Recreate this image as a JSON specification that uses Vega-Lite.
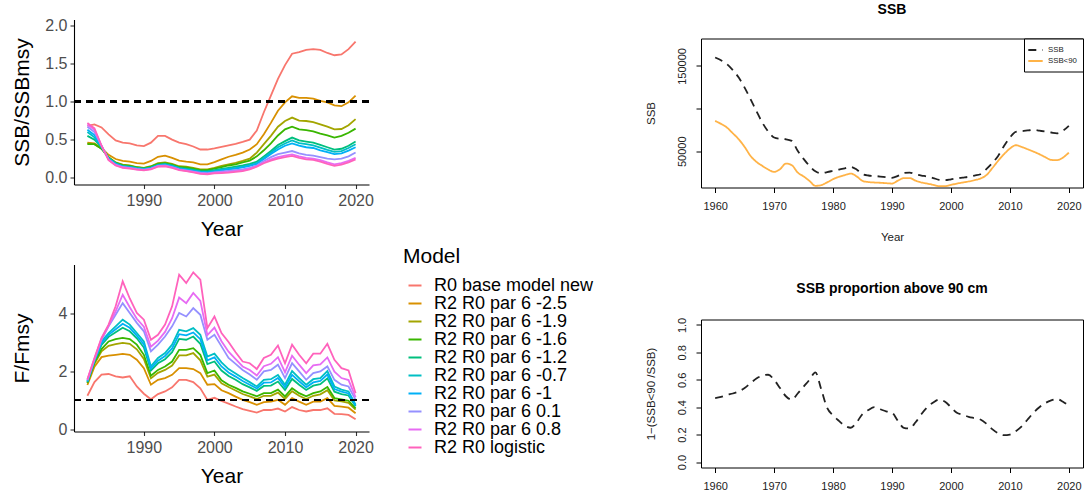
{
"$schema": "https://vega.github.io/schema/vega-lite/v6.json",
"background": "white",
"padding": {"left": 10, "top": 2.5, "right": 0, "bottom": 0},
"config": {"font": "Liberation Sans", "view": {"stroke": null}, "axis": {"grid": false}},
"datasets": {
"left": [
{"Year":1982,"Model":"R0 base model new","S":0.68,"F":1.15},{"Year":1983,"Model":"R0 base model new","S":0.70,"F":1.62},{"Year":1984,"Model":"R0 base model new","S":0.66,"F":1.88},{"Year":1985,"Model":"R0 base model new","S":0.57,"F":1.90},{"Year":1986,"Model":"R0 base model new","S":0.49,"F":1.82},{"Year":1987,"Model":"R0 base model new","S":0.46,"F":1.78},{"Year":1988,"Model":"R0 base model new","S":0.45,"F":1.82},{"Year":1989,"Model":"R0 base model new","S":0.425,"F":1.47},{"Year":1990,"Model":"R0 base model new","S":0.415,"F":1.22},{"Year":1991,"Model":"R0 base model new","S":0.46,"F":1.03},{"Year":1992,"Model":"R0 base model new","S":0.55,"F":1.21},{"Year":1993,"Model":"R0 base model new","S":0.55,"F":1.30},{"Year":1994,"Model":"R0 base model new","S":0.50,"F":1.44},{"Year":1995,"Model":"R0 base model new","S":0.46,"F":1.70},{"Year":1996,"Model":"R0 base model new","S":0.44,"F":1.70},{"Year":1997,"Model":"R0 base model new","S":0.41,"F":1.62},{"Year":1998,"Model":"R0 base model new","S":0.37,"F":1.41},{"Year":1999,"Model":"R0 base model new","S":0.37,"F":1.01},{"Year":2000,"Model":"R0 base model new","S":0.385,"F":1.08},{"Year":2001,"Model":"R0 base model new","S":0.405,"F":0.97},{"Year":2002,"Model":"R0 base model new","S":0.425,"F":0.88},{"Year":2003,"Model":"R0 base model new","S":0.445,"F":0.78},{"Year":2004,"Model":"R0 base model new","S":0.47,"F":0.69},{"Year":2005,"Model":"R0 base model new","S":0.50,"F":0.63},{"Year":2006,"Model":"R0 base model new","S":0.62,"F":0.57},{"Year":2007,"Model":"R0 base model new","S":0.86,"F":0.66},{"Year":2008,"Model":"R0 base model new","S":1.08,"F":0.66},{"Year":2009,"Model":"R0 base model new","S":1.30,"F":0.71},{"Year":2010,"Model":"R0 base model new","S":1.48,"F":0.61},{"Year":2011,"Model":"R0 base model new","S":1.63,"F":0.76},{"Year":2012,"Model":"R0 base model new","S":1.65,"F":0.66},{"Year":2013,"Model":"R0 base model new","S":1.68,"F":0.61},{"Year":2014,"Model":"R0 base model new","S":1.69,"F":0.66},{"Year":2015,"Model":"R0 base model new","S":1.68,"F":0.66},{"Year":2016,"Model":"R0 base model new","S":1.64,"F":0.72},{"Year":2017,"Model":"R0 base model new","S":1.61,"F":0.53},{"Year":2018,"Model":"R0 base model new","S":1.62,"F":0.52},{"Year":2019,"Model":"R0 base model new","S":1.69,"F":0.49},{"Year":2020,"Model":"R0 base model new","S":1.79,"F":0.34},
{"Year":1982,"Model":"R2 R0 par 6 -2.5","S":0.46,"F":1.52},{"Year":1983,"Model":"R2 R0 par 6 -2.5","S":0.45,"F":2.15},{"Year":1984,"Model":"R2 R0 par 6 -2.5","S":0.39,"F":2.48},{"Year":1985,"Model":"R2 R0 par 6 -2.5","S":0.30,"F":2.53},{"Year":1986,"Model":"R2 R0 par 6 -2.5","S":0.245,"F":2.56},{"Year":1987,"Model":"R2 R0 par 6 -2.5","S":0.22,"F":2.59},{"Year":1988,"Model":"R2 R0 par 6 -2.5","S":0.21,"F":2.56},{"Year":1989,"Model":"R2 R0 par 6 -2.5","S":0.19,"F":2.39},{"Year":1990,"Model":"R2 R0 par 6 -2.5","S":0.185,"F":2.10},{"Year":1991,"Model":"R2 R0 par 6 -2.5","S":0.22,"F":1.53},{"Year":1992,"Model":"R2 R0 par 6 -2.5","S":0.275,"F":1.70},{"Year":1993,"Model":"R2 R0 par 6 -2.5","S":0.29,"F":1.76},{"Year":1994,"Model":"R2 R0 par 6 -2.5","S":0.26,"F":1.87},{"Year":1995,"Model":"R2 R0 par 6 -2.5","S":0.225,"F":2.10},{"Year":1996,"Model":"R2 R0 par 6 -2.5","S":0.21,"F":2.10},{"Year":1997,"Model":"R2 R0 par 6 -2.5","S":0.20,"F":2.07},{"Year":1998,"Model":"R2 R0 par 6 -2.5","S":0.175,"F":1.93},{"Year":1999,"Model":"R2 R0 par 6 -2.5","S":0.175,"F":1.53},{"Year":2000,"Model":"R2 R0 par 6 -2.5","S":0.205,"F":1.55},{"Year":2001,"Model":"R2 R0 par 6 -2.5","S":0.24,"F":1.34},{"Year":2002,"Model":"R2 R0 par 6 -2.5","S":0.275,"F":1.24},{"Year":2003,"Model":"R2 R0 par 6 -2.5","S":0.30,"F":1.12},{"Year":2004,"Model":"R2 R0 par 6 -2.5","S":0.33,"F":1.01},{"Year":2005,"Model":"R2 R0 par 6 -2.5","S":0.37,"F":0.93},{"Year":2006,"Model":"R2 R0 par 6 -2.5","S":0.44,"F":0.84},{"Year":2007,"Model":"R2 R0 par 6 -2.5","S":0.57,"F":0.93},{"Year":2008,"Model":"R2 R0 par 6 -2.5","S":0.72,"F":0.95},{"Year":2009,"Model":"R2 R0 par 6 -2.5","S":0.88,"F":1.01},{"Year":2010,"Model":"R2 R0 par 6 -2.5","S":0.99,"F":0.84},{"Year":2011,"Model":"R2 R0 par 6 -2.5","S":1.07,"F":1.07},{"Year":2012,"Model":"R2 R0 par 6 -2.5","S":1.05,"F":0.95},{"Year":2013,"Model":"R2 R0 par 6 -2.5","S":1.05,"F":0.84},{"Year":2014,"Model":"R2 R0 par 6 -2.5","S":1.04,"F":0.95},{"Year":2015,"Model":"R2 R0 par 6 -2.5","S":1.01,"F":0.95},{"Year":2016,"Model":"R2 R0 par 6 -2.5","S":0.99,"F":1.07},{"Year":2017,"Model":"R2 R0 par 6 -2.5","S":0.95,"F":0.80},{"Year":2018,"Model":"R2 R0 par 6 -2.5","S":0.94,"F":0.78},{"Year":2019,"Model":"R2 R0 par 6 -2.5","S":0.99,"F":0.74},{"Year":2020,"Model":"R2 R0 par 6 -2.5","S":1.08,"F":0.55},
{"Year":1982,"Model":"R2 R0 par 6 -1.9","S":0.45,"F":1.58},{"Year":1983,"Model":"R2 R0 par 6 -1.9","S":0.44,"F":2.25},{"Year":1984,"Model":"R2 R0 par 6 -1.9","S":0.38,"F":2.68},{"Year":1985,"Model":"R2 R0 par 6 -1.9","S":0.27,"F":2.87},{"Year":1986,"Model":"R2 R0 par 6 -1.9","S":0.20,"F":2.93},{"Year":1987,"Model":"R2 R0 par 6 -1.9","S":0.17,"F":2.97},{"Year":1988,"Model":"R2 R0 par 6 -1.9","S":0.16,"F":2.94},{"Year":1989,"Model":"R2 R0 par 6 -1.9","S":0.14,"F":2.75},{"Year":1990,"Model":"R2 R0 par 6 -1.9","S":0.13,"F":2.42},{"Year":1991,"Model":"R2 R0 par 6 -1.9","S":0.15,"F":1.75},{"Year":1992,"Model":"R2 R0 par 6 -1.9","S":0.19,"F":1.94},{"Year":1993,"Model":"R2 R0 par 6 -1.9","S":0.20,"F":2.04},{"Year":1994,"Model":"R2 R0 par 6 -1.9","S":0.18,"F":2.19},{"Year":1995,"Model":"R2 R0 par 6 -1.9","S":0.15,"F":2.54},{"Year":1996,"Model":"R2 R0 par 6 -1.9","S":0.145,"F":2.54},{"Year":1997,"Model":"R2 R0 par 6 -1.9","S":0.13,"F":2.62},{"Year":1998,"Model":"R2 R0 par 6 -1.9","S":0.11,"F":2.37},{"Year":1999,"Model":"R2 R0 par 6 -1.9","S":0.11,"F":1.81},{"Year":2000,"Model":"R2 R0 par 6 -1.9","S":0.13,"F":1.88},{"Year":2001,"Model":"R2 R0 par 6 -1.9","S":0.155,"F":1.58},{"Year":2002,"Model":"R2 R0 par 6 -1.9","S":0.175,"F":1.45},{"Year":2003,"Model":"R2 R0 par 6 -1.9","S":0.195,"F":1.33},{"Year":2004,"Model":"R2 R0 par 6 -1.9","S":0.22,"F":1.21},{"Year":2005,"Model":"R2 R0 par 6 -1.9","S":0.25,"F":1.13},{"Year":2006,"Model":"R2 R0 par 6 -1.9","S":0.33,"F":1.04},{"Year":2007,"Model":"R2 R0 par 6 -1.9","S":0.44,"F":1.15},{"Year":2008,"Model":"R2 R0 par 6 -1.9","S":0.55,"F":1.15},{"Year":2009,"Model":"R2 R0 par 6 -1.9","S":0.67,"F":1.26},{"Year":2010,"Model":"R2 R0 par 6 -1.9","S":0.745,"F":1.04},{"Year":2011,"Model":"R2 R0 par 6 -1.9","S":0.79,"F":1.31},{"Year":2012,"Model":"R2 R0 par 6 -1.9","S":0.75,"F":1.15},{"Year":2013,"Model":"R2 R0 par 6 -1.9","S":0.745,"F":1.04},{"Year":2014,"Model":"R2 R0 par 6 -1.9","S":0.73,"F":1.15},{"Year":2015,"Model":"R2 R0 par 6 -1.9","S":0.70,"F":1.20},{"Year":2016,"Model":"R2 R0 par 6 -1.9","S":0.67,"F":1.34},{"Year":2017,"Model":"R2 R0 par 6 -1.9","S":0.635,"F":0.99},{"Year":2018,"Model":"R2 R0 par 6 -1.9","S":0.64,"F":0.96},{"Year":2019,"Model":"R2 R0 par 6 -1.9","S":0.69,"F":0.91},{"Year":2020,"Model":"R2 R0 par 6 -1.9","S":0.77,"F":0.67},
{"Year":1982,"Model":"R2 R0 par 6 -1.6","S":0.44,"F":1.60},{"Year":1983,"Model":"R2 R0 par 6 -1.6","S":0.44,"F":2.30},{"Year":1984,"Model":"R2 R0 par 6 -1.6","S":0.38,"F":2.76},{"Year":1985,"Model":"R2 R0 par 6 -1.6","S":0.265,"F":3.02},{"Year":1986,"Model":"R2 R0 par 6 -1.6","S":0.195,"F":3.10},{"Year":1987,"Model":"R2 R0 par 6 -1.6","S":0.165,"F":3.14},{"Year":1988,"Model":"R2 R0 par 6 -1.6","S":0.155,"F":3.10},{"Year":1989,"Model":"R2 R0 par 6 -1.6","S":0.135,"F":2.91},{"Year":1990,"Model":"R2 R0 par 6 -1.6","S":0.125,"F":2.56},{"Year":1991,"Model":"R2 R0 par 6 -1.6","S":0.145,"F":1.84},{"Year":1992,"Model":"R2 R0 par 6 -1.6","S":0.18,"F":2.04},{"Year":1993,"Model":"R2 R0 par 6 -1.6","S":0.19,"F":2.16},{"Year":1994,"Model":"R2 R0 par 6 -1.6","S":0.17,"F":2.33},{"Year":1995,"Model":"R2 R0 par 6 -1.6","S":0.14,"F":2.73},{"Year":1996,"Model":"R2 R0 par 6 -1.6","S":0.135,"F":2.73},{"Year":1997,"Model":"R2 R0 par 6 -1.6","S":0.12,"F":2.79},{"Year":1998,"Model":"R2 R0 par 6 -1.6","S":0.10,"F":2.56},{"Year":1999,"Model":"R2 R0 par 6 -1.6","S":0.10,"F":1.93},{"Year":2000,"Model":"R2 R0 par 6 -1.6","S":0.12,"F":2.02},{"Year":2001,"Model":"R2 R0 par 6 -1.6","S":0.14,"F":1.68},{"Year":2002,"Model":"R2 R0 par 6 -1.6","S":0.16,"F":1.53},{"Year":2003,"Model":"R2 R0 par 6 -1.6","S":0.175,"F":1.42},{"Year":2004,"Model":"R2 R0 par 6 -1.6","S":0.20,"F":1.30},{"Year":2005,"Model":"R2 R0 par 6 -1.6","S":0.225,"F":1.22},{"Year":2006,"Model":"R2 R0 par 6 -1.6","S":0.28,"F":1.13},{"Year":2007,"Model":"R2 R0 par 6 -1.6","S":0.36,"F":1.24},{"Year":2008,"Model":"R2 R0 par 6 -1.6","S":0.45,"F":1.24},{"Year":2009,"Model":"R2 R0 par 6 -1.6","S":0.555,"F":1.36},{"Year":2010,"Model":"R2 R0 par 6 -1.6","S":0.635,"F":1.13},{"Year":2011,"Model":"R2 R0 par 6 -1.6","S":0.67,"F":1.41},{"Year":2012,"Model":"R2 R0 par 6 -1.6","S":0.635,"F":1.24},{"Year":2013,"Model":"R2 R0 par 6 -1.6","S":0.625,"F":1.13},{"Year":2014,"Model":"R2 R0 par 6 -1.6","S":0.61,"F":1.24},{"Year":2015,"Model":"R2 R0 par 6 -1.6","S":0.58,"F":1.30},{"Year":2016,"Model":"R2 R0 par 6 -1.6","S":0.555,"F":1.45},{"Year":2017,"Model":"R2 R0 par 6 -1.6","S":0.527,"F":1.07},{"Year":2018,"Model":"R2 R0 par 6 -1.6","S":0.55,"F":1.03},{"Year":2019,"Model":"R2 R0 par 6 -1.6","S":0.59,"F":0.98},{"Year":2020,"Model":"R2 R0 par 6 -1.6","S":0.645,"F":0.72},
{"Year":1982,"Model":"R2 R0 par 6 -1.2","S":0.55,"F":1.62},{"Year":1983,"Model":"R2 R0 par 6 -1.2","S":0.50,"F":2.34},{"Year":1984,"Model":"R2 R0 par 6 -1.2","S":0.40,"F":2.90},{"Year":1985,"Model":"R2 R0 par 6 -1.2","S":0.26,"F":3.18},{"Year":1986,"Model":"R2 R0 par 6 -1.2","S":0.19,"F":3.34},{"Year":1987,"Model":"R2 R0 par 6 -1.2","S":0.155,"F":3.49},{"Year":1988,"Model":"R2 R0 par 6 -1.2","S":0.145,"F":3.37},{"Year":1989,"Model":"R2 R0 par 6 -1.2","S":0.13,"F":3.13},{"Year":1990,"Model":"R2 R0 par 6 -1.2","S":0.12,"F":2.81},{"Year":1991,"Model":"R2 R0 par 6 -1.2","S":0.135,"F":2.02},{"Year":1992,"Model":"R2 R0 par 6 -1.2","S":0.17,"F":2.27},{"Year":1993,"Model":"R2 R0 par 6 -1.2","S":0.18,"F":2.41},{"Year":1994,"Model":"R2 R0 par 6 -1.2","S":0.16,"F":2.65},{"Year":1995,"Model":"R2 R0 par 6 -1.2","S":0.13,"F":3.11},{"Year":1996,"Model":"R2 R0 par 6 -1.2","S":0.12,"F":3.08},{"Year":1997,"Model":"R2 R0 par 6 -1.2","S":0.105,"F":3.19},{"Year":1998,"Model":"R2 R0 par 6 -1.2","S":0.09,"F":2.94},{"Year":1999,"Model":"R2 R0 par 6 -1.2","S":0.085,"F":2.24},{"Year":2000,"Model":"R2 R0 par 6 -1.2","S":0.10,"F":2.33},{"Year":2001,"Model":"R2 R0 par 6 -1.2","S":0.115,"F":2.02},{"Year":2002,"Model":"R2 R0 par 6 -1.2","S":0.13,"F":1.83},{"Year":2003,"Model":"R2 R0 par 6 -1.2","S":0.145,"F":1.70},{"Year":2004,"Model":"R2 R0 par 6 -1.2","S":0.16,"F":1.55},{"Year":2005,"Model":"R2 R0 par 6 -1.2","S":0.18,"F":1.44},{"Year":2006,"Model":"R2 R0 par 6 -1.2","S":0.21,"F":1.32},{"Year":2007,"Model":"R2 R0 par 6 -1.2","S":0.28,"F":1.49},{"Year":2008,"Model":"R2 R0 par 6 -1.2","S":0.35,"F":1.50},{"Year":2009,"Model":"R2 R0 par 6 -1.2","S":0.43,"F":1.64},{"Year":2010,"Model":"R2 R0 par 6 -1.2","S":0.48,"F":1.35},{"Year":2011,"Model":"R2 R0 par 6 -1.2","S":0.527,"F":1.73},{"Year":2012,"Model":"R2 R0 par 6 -1.2","S":0.49,"F":1.53},{"Year":2013,"Model":"R2 R0 par 6 -1.2","S":0.475,"F":1.35},{"Year":2014,"Model":"R2 R0 par 6 -1.2","S":0.46,"F":1.50},{"Year":2015,"Model":"R2 R0 par 6 -1.2","S":0.43,"F":1.55},{"Year":2016,"Model":"R2 R0 par 6 -1.2","S":0.40,"F":1.75},{"Year":2017,"Model":"R2 R0 par 6 -1.2","S":0.37,"F":1.29},{"Year":2018,"Model":"R2 R0 par 6 -1.2","S":0.38,"F":1.21},{"Year":2019,"Model":"R2 R0 par 6 -1.2","S":0.42,"F":1.16},{"Year":2020,"Model":"R2 R0 par 6 -1.2","S":0.475,"F":0.79},
{"Year":1982,"Model":"R2 R0 par 6 -0.7","S":0.60,"F":1.65},{"Year":1983,"Model":"R2 R0 par 6 -0.7","S":0.53,"F":2.38},{"Year":1984,"Model":"R2 R0 par 6 -0.7","S":0.40,"F":3.02},{"Year":1985,"Model":"R2 R0 par 6 -0.7","S":0.255,"F":3.31},{"Year":1986,"Model":"R2 R0 par 6 -0.7","S":0.185,"F":3.54},{"Year":1987,"Model":"R2 R0 par 6 -0.7","S":0.15,"F":3.77},{"Year":1988,"Model":"R2 R0 par 6 -0.7","S":0.14,"F":3.60},{"Year":1989,"Model":"R2 R0 par 6 -0.7","S":0.125,"F":3.31},{"Year":1990,"Model":"R2 R0 par 6 -0.7","S":0.115,"F":3.02},{"Year":1991,"Model":"R2 R0 par 6 -0.7","S":0.13,"F":2.16},{"Year":1992,"Model":"R2 R0 par 6 -0.7","S":0.165,"F":2.45},{"Year":1993,"Model":"R2 R0 par 6 -0.7","S":0.175,"F":2.62},{"Year":1994,"Model":"R2 R0 par 6 -0.7","S":0.155,"F":2.91},{"Year":1995,"Model":"R2 R0 par 6 -0.7","S":0.125,"F":3.42},{"Year":1996,"Model":"R2 R0 par 6 -0.7","S":0.11,"F":3.37},{"Year":1997,"Model":"R2 R0 par 6 -0.7","S":0.095,"F":3.48},{"Year":1998,"Model":"R2 R0 par 6 -0.7","S":0.08,"F":3.25},{"Year":1999,"Model":"R2 R0 par 6 -0.7","S":0.075,"F":2.50},{"Year":2000,"Model":"R2 R0 par 6 -0.7","S":0.09,"F":2.60},{"Year":2001,"Model":"R2 R0 par 6 -0.7","S":0.105,"F":2.30},{"Year":2002,"Model":"R2 R0 par 6 -0.7","S":0.12,"F":2.07},{"Year":2003,"Model":"R2 R0 par 6 -0.7","S":0.13,"F":1.92},{"Year":2004,"Model":"R2 R0 par 6 -0.7","S":0.145,"F":1.76},{"Year":2005,"Model":"R2 R0 par 6 -0.7","S":0.165,"F":1.62},{"Year":2006,"Model":"R2 R0 par 6 -0.7","S":0.19,"F":1.47},{"Year":2007,"Model":"R2 R0 par 6 -0.7","S":0.26,"F":1.70},{"Year":2008,"Model":"R2 R0 par 6 -0.7","S":0.33,"F":1.72},{"Year":2009,"Model":"R2 R0 par 6 -0.7","S":0.40,"F":1.87},{"Year":2010,"Model":"R2 R0 par 6 -0.7","S":0.45,"F":1.53},{"Year":2011,"Model":"R2 R0 par 6 -0.7","S":0.49,"F":2.00},{"Year":2012,"Model":"R2 R0 par 6 -0.7","S":0.455,"F":1.76},{"Year":2013,"Model":"R2 R0 par 6 -0.7","S":0.44,"F":1.53},{"Year":2014,"Model":"R2 R0 par 6 -0.7","S":0.425,"F":1.72},{"Year":2015,"Model":"R2 R0 par 6 -0.7","S":0.395,"F":1.76},{"Year":2016,"Model":"R2 R0 par 6 -0.7","S":0.365,"F":2.00},{"Year":2017,"Model":"R2 R0 par 6 -0.7","S":0.34,"F":1.47},{"Year":2018,"Model":"R2 R0 par 6 -0.7","S":0.35,"F":1.36},{"Year":2019,"Model":"R2 R0 par 6 -0.7","S":0.39,"F":1.30},{"Year":2020,"Model":"R2 R0 par 6 -0.7","S":0.44,"F":0.84},
{"Year":1982,"Model":"R2 R0 par 6 -1","S":0.63,"F":1.64},{"Year":1983,"Model":"R2 R0 par 6 -1","S":0.56,"F":2.36},{"Year":1984,"Model":"R2 R0 par 6 -1","S":0.41,"F":2.96},{"Year":1985,"Model":"R2 R0 par 6 -1","S":0.25,"F":3.25},{"Year":1986,"Model":"R2 R0 par 6 -1","S":0.18,"F":3.44},{"Year":1987,"Model":"R2 R0 par 6 -1","S":0.145,"F":3.63},{"Year":1988,"Model":"R2 R0 par 6 -1","S":0.135,"F":3.49},{"Year":1989,"Model":"R2 R0 par 6 -1","S":0.12,"F":3.22},{"Year":1990,"Model":"R2 R0 par 6 -1","S":0.11,"F":2.92},{"Year":1991,"Model":"R2 R0 par 6 -1","S":0.125,"F":2.09},{"Year":1992,"Model":"R2 R0 par 6 -1","S":0.16,"F":2.36},{"Year":1993,"Model":"R2 R0 par 6 -1","S":0.17,"F":2.52},{"Year":1994,"Model":"R2 R0 par 6 -1","S":0.15,"F":2.78},{"Year":1995,"Model":"R2 R0 par 6 -1","S":0.12,"F":3.27},{"Year":1996,"Model":"R2 R0 par 6 -1","S":0.105,"F":3.23},{"Year":1997,"Model":"R2 R0 par 6 -1","S":0.09,"F":3.33},{"Year":1998,"Model":"R2 R0 par 6 -1","S":0.075,"F":3.10},{"Year":1999,"Model":"R2 R0 par 6 -1","S":0.07,"F":2.37},{"Year":2000,"Model":"R2 R0 par 6 -1","S":0.08,"F":2.47},{"Year":2001,"Model":"R2 R0 par 6 -1","S":0.095,"F":2.16},{"Year":2002,"Model":"R2 R0 par 6 -1","S":0.11,"F":1.95},{"Year":2003,"Model":"R2 R0 par 6 -1","S":0.12,"F":1.81},{"Year":2004,"Model":"R2 R0 par 6 -1","S":0.135,"F":1.66},{"Year":2005,"Model":"R2 R0 par 6 -1","S":0.155,"F":1.53},{"Year":2006,"Model":"R2 R0 par 6 -1","S":0.18,"F":1.40},{"Year":2007,"Model":"R2 R0 par 6 -1","S":0.245,"F":1.60},{"Year":2008,"Model":"R2 R0 par 6 -1","S":0.31,"F":1.61},{"Year":2009,"Model":"R2 R0 par 6 -1","S":0.37,"F":1.76},{"Year":2010,"Model":"R2 R0 par 6 -1","S":0.42,"F":1.44},{"Year":2011,"Model":"R2 R0 par 6 -1","S":0.45,"F":1.87},{"Year":2012,"Model":"R2 R0 par 6 -1","S":0.42,"F":1.65},{"Year":2013,"Model":"R2 R0 par 6 -1","S":0.40,"F":1.44},{"Year":2014,"Model":"R2 R0 par 6 -1","S":0.39,"F":1.61},{"Year":2015,"Model":"R2 R0 par 6 -1","S":0.36,"F":1.66},{"Year":2016,"Model":"R2 R0 par 6 -1","S":0.335,"F":1.88},{"Year":2017,"Model":"R2 R0 par 6 -1","S":0.31,"F":1.38},{"Year":2018,"Model":"R2 R0 par 6 -1","S":0.32,"F":1.29},{"Year":2019,"Model":"R2 R0 par 6 -1","S":0.355,"F":1.23},{"Year":2020,"Model":"R2 R0 par 6 -1","S":0.40,"F":0.81},
{"Year":1982,"Model":"R2 R0 par 6 0.1","S":0.67,"F":1.68},{"Year":1983,"Model":"R2 R0 par 6 0.1","S":0.60,"F":2.40},{"Year":1984,"Model":"R2 R0 par 6 0.1","S":0.42,"F":3.08},{"Year":1985,"Model":"R2 R0 par 6 0.1","S":0.24,"F":3.54},{"Year":1986,"Model":"R2 R0 par 6 0.1","S":0.17,"F":3.94},{"Year":1987,"Model":"R2 R0 par 6 0.1","S":0.14,"F":4.34},{"Year":1988,"Model":"R2 R0 par 6 0.1","S":0.13,"F":4.00},{"Year":1989,"Model":"R2 R0 par 6 0.1","S":0.115,"F":3.66},{"Year":1990,"Model":"R2 R0 par 6 0.1","S":0.105,"F":3.37},{"Year":1991,"Model":"R2 R0 par 6 0.1","S":0.12,"F":2.68},{"Year":1992,"Model":"R2 R0 par 6 0.1","S":0.155,"F":2.91},{"Year":1993,"Model":"R2 R0 par 6 0.1","S":0.16,"F":3.19},{"Year":1994,"Model":"R2 R0 par 6 0.1","S":0.14,"F":3.54},{"Year":1995,"Model":"R2 R0 par 6 0.1","S":0.11,"F":4.00},{"Year":1996,"Model":"R2 R0 par 6 0.1","S":0.095,"F":3.88},{"Year":1997,"Model":"R2 R0 par 6 0.1","S":0.08,"F":4.17},{"Year":1998,"Model":"R2 R0 par 6 0.1","S":0.065,"F":3.94},{"Year":1999,"Model":"R2 R0 par 6 0.1","S":0.06,"F":3.08},{"Year":2000,"Model":"R2 R0 par 6 0.1","S":0.07,"F":3.25},{"Year":2001,"Model":"R2 R0 par 6 0.1","S":0.08,"F":2.85},{"Year":2002,"Model":"R2 R0 par 6 0.1","S":0.09,"F":2.45},{"Year":2003,"Model":"R2 R0 par 6 0.1","S":0.10,"F":2.25},{"Year":2004,"Model":"R2 R0 par 6 0.1","S":0.11,"F":2.04},{"Year":2005,"Model":"R2 R0 par 6 0.1","S":0.13,"F":1.88},{"Year":2006,"Model":"R2 R0 par 6 0.1","S":0.16,"F":1.70},{"Year":2007,"Model":"R2 R0 par 6 0.1","S":0.22,"F":1.99},{"Year":2008,"Model":"R2 R0 par 6 0.1","S":0.27,"F":2.04},{"Year":2009,"Model":"R2 R0 par 6 0.1","S":0.31,"F":2.22},{"Year":2010,"Model":"R2 R0 par 6 0.1","S":0.33,"F":1.76},{"Year":2011,"Model":"R2 R0 par 6 0.1","S":0.35,"F":2.27},{"Year":2012,"Model":"R2 R0 par 6 0.1","S":0.32,"F":1.99},{"Year":2013,"Model":"R2 R0 par 6 0.1","S":0.30,"F":1.70},{"Year":2014,"Model":"R2 R0 par 6 0.1","S":0.29,"F":1.93},{"Year":2015,"Model":"R2 R0 par 6 0.1","S":0.27,"F":1.99},{"Year":2016,"Model":"R2 R0 par 6 0.1","S":0.25,"F":2.16},{"Year":2017,"Model":"R2 R0 par 6 0.1","S":0.24,"F":1.70},{"Year":2018,"Model":"R2 R0 par 6 0.1","S":0.25,"F":1.53},{"Year":2019,"Model":"R2 R0 par 6 0.1","S":0.28,"F":1.47},{"Year":2020,"Model":"R2 R0 par 6 0.1","S":0.33,"F":1.01},
{"Year":1982,"Model":"R2 R0 par 6 0.8","S":0.70,"F":1.70},{"Year":1983,"Model":"R2 R0 par 6 0.8","S":0.63,"F":2.43},{"Year":1984,"Model":"R2 R0 par 6 0.8","S":0.42,"F":3.12},{"Year":1985,"Model":"R2 R0 par 6 0.8","S":0.235,"F":3.56},{"Year":1986,"Model":"R2 R0 par 6 0.8","S":0.165,"F":4.06},{"Year":1987,"Model":"R2 R0 par 6 0.8","S":0.135,"F":4.63},{"Year":1988,"Model":"R2 R0 par 6 0.8","S":0.125,"F":4.20},{"Year":1989,"Model":"R2 R0 par 6 0.8","S":0.11,"F":3.80},{"Year":1990,"Model":"R2 R0 par 6 0.8","S":0.10,"F":3.53},{"Year":1991,"Model":"R2 R0 par 6 0.8","S":0.115,"F":2.84},{"Year":1992,"Model":"R2 R0 par 6 0.8","S":0.15,"F":3.05},{"Year":1993,"Model":"R2 R0 par 6 0.8","S":0.155,"F":3.35},{"Year":1994,"Model":"R2 R0 par 6 0.8","S":0.135,"F":3.82},{"Year":1995,"Model":"R2 R0 par 6 0.8","S":0.105,"F":4.53},{"Year":1996,"Model":"R2 R0 par 6 0.8","S":0.09,"F":4.34},{"Year":1997,"Model":"R2 R0 par 6 0.8","S":0.075,"F":4.69},{"Year":1998,"Model":"R2 R0 par 6 0.8","S":0.055,"F":4.42},{"Year":1999,"Model":"R2 R0 par 6 0.8","S":0.05,"F":3.24},{"Year":2000,"Model":"R2 R0 par 6 0.8","S":0.065,"F":3.50},{"Year":2001,"Model":"R2 R0 par 6 0.8","S":0.07,"F":3.03},{"Year":2002,"Model":"R2 R0 par 6 0.8","S":0.075,"F":2.67},{"Year":2003,"Model":"R2 R0 par 6 0.8","S":0.085,"F":2.41},{"Year":2004,"Model":"R2 R0 par 6 0.8","S":0.095,"F":2.16},{"Year":2005,"Model":"R2 R0 par 6 0.8","S":0.115,"F":2.04},{"Year":2006,"Model":"R2 R0 par 6 0.8","S":0.15,"F":1.85},{"Year":2007,"Model":"R2 R0 par 6 0.8","S":0.20,"F":2.17},{"Year":2008,"Model":"R2 R0 par 6 0.8","S":0.24,"F":2.25},{"Year":2009,"Model":"R2 R0 par 6 0.8","S":0.27,"F":2.48},{"Year":2010,"Model":"R2 R0 par 6 0.8","S":0.29,"F":1.96},{"Year":2011,"Model":"R2 R0 par 6 0.8","S":0.305,"F":2.53},{"Year":2012,"Model":"R2 R0 par 6 0.8","S":0.28,"F":2.22},{"Year":2013,"Model":"R2 R0 par 6 0.8","S":0.26,"F":1.93},{"Year":2014,"Model":"R2 R0 par 6 0.8","S":0.25,"F":2.20},{"Year":2015,"Model":"R2 R0 par 6 0.8","S":0.23,"F":2.23},{"Year":2016,"Model":"R2 R0 par 6 0.8","S":0.20,"F":2.47},{"Year":2017,"Model":"R2 R0 par 6 0.8","S":0.175,"F":1.98},{"Year":2018,"Model":"R2 R0 par 6 0.8","S":0.19,"F":1.76},{"Year":2019,"Model":"R2 R0 par 6 0.8","S":0.22,"F":1.69},{"Year":2020,"Model":"R2 R0 par 6 0.8","S":0.26,"F":1.10},
{"Year":1982,"Model":"R2 R0 logistic","S":0.72,"F":1.72},{"Year":1983,"Model":"R2 R0 logistic","S":0.65,"F":2.45},{"Year":1984,"Model":"R2 R0 logistic","S":0.42,"F":3.14},{"Year":1985,"Model":"R2 R0 logistic","S":0.23,"F":3.60},{"Year":1986,"Model":"R2 R0 logistic","S":0.16,"F":4.23},{"Year":1987,"Model":"R2 R0 logistic","S":0.13,"F":5.09},{"Year":1988,"Model":"R2 R0 logistic","S":0.12,"F":4.50},{"Year":1989,"Model":"R2 R0 logistic","S":0.105,"F":4.00},{"Year":1990,"Model":"R2 R0 logistic","S":0.096,"F":3.77},{"Year":1991,"Model":"R2 R0 logistic","S":0.11,"F":3.08},{"Year":1992,"Model":"R2 R0 logistic","S":0.145,"F":3.25},{"Year":1993,"Model":"R2 R0 logistic","S":0.15,"F":3.60},{"Year":1994,"Model":"R2 R0 logistic","S":0.13,"F":4.23},{"Year":1995,"Model":"R2 R0 logistic","S":0.10,"F":5.32},{"Year":1996,"Model":"R2 R0 logistic","S":0.085,"F":5.03},{"Year":1997,"Model":"R2 R0 logistic","S":0.07,"F":5.40},{"Year":1998,"Model":"R2 R0 logistic","S":0.05,"F":5.15},{"Year":1999,"Model":"R2 R0 logistic","S":0.045,"F":3.48},{"Year":2000,"Model":"R2 R0 logistic","S":0.055,"F":3.88},{"Year":2001,"Model":"R2 R0 logistic","S":0.06,"F":3.31},{"Year":2002,"Model":"R2 R0 logistic","S":0.065,"F":3.00},{"Year":2003,"Model":"R2 R0 logistic","S":0.075,"F":2.65},{"Year":2004,"Model":"R2 R0 logistic","S":0.085,"F":2.33},{"Year":2005,"Model":"R2 R0 logistic","S":0.11,"F":2.27},{"Year":2006,"Model":"R2 R0 logistic","S":0.145,"F":2.07},{"Year":2007,"Model":"R2 R0 logistic","S":0.19,"F":2.45},{"Year":2008,"Model":"R2 R0 logistic","S":0.225,"F":2.56},{"Year":2009,"Model":"R2 R0 logistic","S":0.25,"F":2.88},{"Year":2010,"Model":"R2 R0 logistic","S":0.27,"F":2.27},{"Year":2011,"Model":"R2 R0 logistic","S":0.285,"F":2.91},{"Year":2012,"Model":"R2 R0 logistic","S":0.26,"F":2.56},{"Year":2013,"Model":"R2 R0 logistic","S":0.24,"F":2.27},{"Year":2014,"Model":"R2 R0 logistic","S":0.235,"F":2.60},{"Year":2015,"Model":"R2 R0 logistic","S":0.21,"F":2.60},{"Year":2016,"Model":"R2 R0 logistic","S":0.18,"F":2.94},{"Year":2017,"Model":"R2 R0 logistic","S":0.155,"F":2.39},{"Year":2018,"Model":"R2 R0 logistic","S":0.17,"F":2.10},{"Year":2019,"Model":"R2 R0 logistic","S":0.20,"F":2.02},{"Year":2020,"Model":"R2 R0 logistic","S":0.24,"F":1.24}
],
"right": [
{"Year":1960,"SSB":159800,"SSB90":85500,"Prop":0.467},{"Year":1961,"SSB":156500,"SSB90":82000,"Prop":0.475},{"Year":1962,"SSB":152000,"SSB90":77700,"Prop":0.49},{"Year":1963,"SSB":145000,"SSB90":71000,"Prop":0.50},{"Year":1964,"SSB":136300,"SSB90":64000,"Prop":0.515},{"Year":1965,"SSB":124500,"SSB90":55000,"Prop":0.54},{"Year":1966,"SSB":111000,"SSB90":44500,"Prop":0.575},{"Year":1967,"SSB":97000,"SSB90":37500,"Prop":0.61},{"Year":1968,"SSB":83600,"SSB90":32800,"Prop":0.63},{"Year":1969,"SSB":73000,"SSB90":28500,"Prop":0.637},{"Year":1970,"SSB":66000,"SSB90":25800,"Prop":0.60},{"Year":1971,"SSB":64500,"SSB90":28900,"Prop":0.54},{"Year":1972,"SSB":64000,"SSB90":35500,"Prop":0.48},{"Year":1973,"SSB":62100,"SSB90":33600,"Prop":0.455},{"Year":1974,"SSB":50400,"SSB90":25000,"Prop":0.50},{"Year":1975,"SSB":41000,"SSB90":20500,"Prop":0.55},{"Year":1976,"SSB":32800,"SSB90":15200,"Prop":0.60},{"Year":1977,"SSB":26500,"SSB90":9400,"Prop":0.654},{"Year":1978,"SSB":24200,"SSB90":10200,"Prop":0.53},{"Year":1979,"SSB":25500,"SSB90":13500,"Prop":0.395},{"Year":1980,"SSB":27000,"SSB90":17200,"Prop":0.34},{"Year":1981,"SSB":28500,"SSB90":20000,"Prop":0.30},{"Year":1982,"SSB":30000,"SSB90":22000,"Prop":0.265},{"Year":1983,"SSB":31600,"SSB90":23800,"Prop":0.25},{"Year":1984,"SSB":28500,"SSB90":20500,"Prop":0.29},{"Year":1985,"SSB":23000,"SSB90":15200,"Prop":0.35},{"Year":1986,"SSB":21500,"SSB90":13800,"Prop":0.38},{"Year":1987,"SSB":21000,"SSB90":13300,"Prop":0.40},{"Year":1988,"SSB":20300,"SSB90":13000,"Prop":0.385},{"Year":1989,"SSB":19500,"SSB90":12500,"Prop":0.37},{"Year":1990,"SSB":18800,"SSB90":12100,"Prop":0.36},{"Year":1991,"SSB":21000,"SSB90":15500,"Prop":0.30},{"Year":1992,"SSB":24500,"SSB90":18400,"Prop":0.25},{"Year":1993,"SSB":25000,"SSB90":18400,"Prop":0.245},{"Year":1994,"SSB":23000,"SSB90":15500,"Prop":0.29},{"Year":1995,"SSB":21500,"SSB90":13300,"Prop":0.35},{"Year":1996,"SSB":20300,"SSB90":12000,"Prop":0.40},{"Year":1997,"SSB":18500,"SSB90":10500,"Prop":0.435},{"Year":1998,"SSB":16500,"SSB90":9000,"Prop":0.455},{"Year":1999,"SSB":16000,"SSB90":9000,"Prop":0.44},{"Year":2000,"SSB":17000,"SSB90":10500,"Prop":0.40},{"Year":2001,"SSB":18200,"SSB90":12000,"Prop":0.36},{"Year":2002,"SSB":19100,"SSB90":13300,"Prop":0.345},{"Year":2003,"SSB":20000,"SSB90":14500,"Prop":0.33},{"Year":2004,"SSB":21500,"SSB90":16000,"Prop":0.32},{"Year":2005,"SSB":23000,"SSB90":18000,"Prop":0.31},{"Year":2006,"SSB":29000,"SSB90":21900,"Prop":0.28},{"Year":2007,"SSB":36000,"SSB90":30000,"Prop":0.24},{"Year":2008,"SSB":44500,"SSB90":38700,"Prop":0.21},{"Year":2009,"SSB":56000,"SSB90":46500,"Prop":0.196},{"Year":2010,"SSB":66000,"SSB90":53100,"Prop":0.20},{"Year":2011,"SSB":72700,"SSB90":57000,"Prop":0.225},{"Year":2012,"SSB":73500,"SSB90":55000,"Prop":0.26},{"Year":2013,"SSB":74300,"SSB90":52300,"Prop":0.31},{"Year":2014,"SSB":75000,"SSB90":49500,"Prop":0.36},{"Year":2015,"SSB":74000,"SSB90":46500,"Prop":0.40},{"Year":2016,"SSB":73000,"SSB90":43000,"Prop":0.43},{"Year":2017,"SSB":71900,"SSB90":39800,"Prop":0.45},{"Year":2018,"SSB":71000,"SSB90":39500,"Prop":0.46},{"Year":2019,"SSB":74000,"SSB90":42500,"Prop":0.44},{"Year":2020,"SSB":79700,"SSB90":48400,"Prop":0.41}
]
},
"bounds": "full",
"spacing": 50,
"resolve": {"scale": {"color": "independent", "strokeDash": "independent"}, "legend": {"color": "independent", "strokeDash": "independent"}},
"hconcat": [
{
"bounds": "flush",
"spacing": 80,
"vconcat": [
{
"width": 295, "height": 165,
"data": {"name": "left"},
"layer": [
{"mark": {"type": "line", "strokeWidth": 1.8},
"encoding": {
"x": {"field": "Year", "type": "quantitative", "scale": {"domain": [1980.1, 2021.9], "nice": false, "zero": false},
"axis": {"values": [1990, 2000, 2010, 2020], "format": "d", "domainColor": "black", "domainWidth": 1.1, "tickColor": "#333333", "tickWidth": 1.1, "tickSize": 4, "labelColor": "#4D4D4D", "labelFontSize": 16, "labelPadding": 4, "title": "Year", "titleFontSize": 21, "titleFontWeight": "normal", "titleColor": "black", "titleY": 45, "titleBaseline": "middle"}},
"y": {"field": "S", "type": "quantitative", "scale": {"domain": [-0.09, 2.08], "nice": false, "zero": false},
"axis": {"values": [0, 0.5, 1, 1.5, 2], "format": ".1f", "domainColor": "black", "domainWidth": 1.1, "tickColor": "#333333", "tickWidth": 1.1, "tickSize": 4, "labelColor": "#4D4D4D", "labelFontSize": 16, "labelPadding": 3, "title": "SSB/SSBmsy", "titleFontSize": 21, "titleFontWeight": "normal", "titleColor": "black", "titleX": -52, "titleBaseline": "middle"}},
"color": {"field": "Model", "type": "nominal",
"scale": {"domain": ["R0 base model new", "R2 R0 par 6 -2.5", "R2 R0 par 6 -1.9", "R2 R0 par 6 -1.6", "R2 R0 par 6 -1.2", "R2 R0 par 6 -0.7", "R2 R0 par 6 -1", "R2 R0 par 6 0.1", "R2 R0 par 6 0.8", "R2 R0 logistic"], "range": ["#F8766D", "#D89000", "#A3A500", "#39B600", "#00BF7D", "#00BFC4", "#00B0F6", "#9590FF", "#E76BF3", "#FF62BC"]},
"legend": {"orient": "none", "legendX": 329, "legendY": 226, "title": "Model", "titleFontSize": 21, "titleFontWeight": "normal", "titleColor": "black", "titlePadding": 10, "labelFontSize": 18, "labelColor": "black", "labelLimit": 400, "symbolType": "stroke", "symbolSize": 169, "symbolStrokeWidth": 2, "rowPadding": 0, "labelOffset": 10, "padding": 0, "symbolOffset": 3}}
}},
{"mark": {"type": "rule", "strokeDash": [7, 5], "strokeWidth": 1.5, "color": "black"}, "encoding": {"y": {"datum": 1}}}
]
},
{
"width": 295, "height": 167,
"data": {"name": "left"},
"layer": [
{"mark": {"type": "line", "strokeWidth": 1.8},
"encoding": {
"x": {"field": "Year", "type": "quantitative", "scale": {"domain": [1980.1, 2021.9], "nice": false, "zero": false},
"axis": {"values": [1990, 2000, 2010, 2020], "format": "d", "domainColor": "black", "domainWidth": 1.1, "tickColor": "#333333", "tickWidth": 1.1, "tickSize": 4, "labelColor": "#4D4D4D", "labelFontSize": 16, "labelPadding": 4, "title": "Year", "titleFontSize": 21, "titleFontWeight": "normal", "titleColor": "black", "titleY": 45, "titleBaseline": "middle"}},
"y": {"field": "F", "type": "quantitative", "scale": {"domain": [-0.08, 5.67], "nice": false, "zero": false},
"axis": {"values": [0, 2, 4], "format": "d", "domainColor": "black", "domainWidth": 1.1, "tickColor": "#333333", "tickWidth": 1.1, "tickSize": 4, "labelColor": "#4D4D4D", "labelFontSize": 16, "labelPadding": 3, "title": "F/Fmsy", "titleFontSize": 21, "titleFontWeight": "normal", "titleColor": "black", "titleX": -52, "titleBaseline": "middle"}},
"color": {"field": "Model", "type": "nominal",
"scale": {"domain": ["R0 base model new", "R2 R0 par 6 -2.5", "R2 R0 par 6 -1.9", "R2 R0 par 6 -1.6", "R2 R0 par 6 -1.2", "R2 R0 par 6 -0.7", "R2 R0 par 6 -1", "R2 R0 par 6 0.1", "R2 R0 par 6 0.8", "R2 R0 logistic"], "range": ["#F8766D", "#D89000", "#A3A500", "#39B600", "#00BF7D", "#00BFC4", "#00B0F6", "#9590FF", "#E76BF3", "#FF62BC"]},
"legend": {"orient": "none", "legendX": 329, "legendY": 226, "title": "Model", "titleFontSize": 21, "titleFontWeight": "normal", "titleColor": "black", "titlePadding": 10, "labelFontSize": 18, "labelColor": "black", "labelLimit": 400, "symbolType": "stroke", "symbolSize": 169, "symbolStrokeWidth": 2, "rowPadding": 0, "labelOffset": 10, "padding": 0, "symbolOffset": 3}}
}},
{"mark": {"type": "rule", "strokeDash": [7, 5], "strokeWidth": 1.5, "color": "black"}, "encoding": {"y": {"datum": 1}}}
]
}
]
},
{
"bounds": "flush",
"spacing": 18,
"resolve": {"scale": {"color": "independent", "strokeDash": "independent"}, "legend": {"color": "independent", "strokeDash": "independent"}},
"vconcat": [
{"width": 1, "height": 1, "data": {"values": []}, "mark": {"type": "point", "opacity": 0}},
{
"bounds": "flush",
"spacing": 132,
"resolve": {"scale": {"color": "independent", "strokeDash": "independent"}, "legend": {"color": "independent", "strokeDash": "independent"}},
"vconcat": [
{
"width": 382, "height": 149,
"view": {"stroke": "black", "strokeWidth": 1},
"title": {"text": "SSB", "fontSize": 14, "fontWeight": "bold", "offset": 21, "anchor": "middle", "frame": "group", "color": "black"},
"data": {"name": "right"},
"transform": [{"fold": ["SSB", "SSB90"], "as": ["Series", "Value"]}],
"mark": {"type": "line", "strokeWidth": 1.8, "interpolate": "monotone"},
"encoding": {
"x": {"field": "Year", "type": "quantitative", "scale": {"domain": [1957.6, 2022.4], "nice": false, "zero": false},
"axis": {"values": [1960, 1970, 1980, 1990, 2000, 2010, 2020], "format": "d", "domain": false, "tickColor": "black", "tickSize": 5, "labelFontSize": 11, "labelColor": "#222222", "labelPadding": 8, "title": "Year", "titleFontSize": 11.5, "titleFontWeight": "normal", "titleColor": "#222222", "titleY": 50, "titleBaseline": "middle"}},
"y": {"field": "Value", "type": "quantitative", "scale": {"domain": [7450, 182100], "nice": false, "zero": false},
"axis": {"values": [50000, 100000, 150000], "format": "d", "labelExpr": "datum.value == 100000 ? '' : datum.label", "labelAngle": -90, "domain": false, "tickColor": "black", "tickSize": 5, "labelFontSize": 11, "labelColor": "#222222", "labelPadding": 9, "title": "SSB", "titleFontSize": 11.5, "titleFontWeight": "normal", "titleColor": "#222222", "titleX": -50, "titleBaseline": "middle"}},
"color": {"field": "Series", "type": "nominal", "scale": {"domain": ["SSB", "SSB90"], "range": ["#222222", "#FFB347"]},
"legend": {"orient": "top-right", "offset": 0, "title": null, "strokeColor": "black", "fillColor": "white", "padding": 6, "labelFontSize": 7.8, "labelColor": "#222222", "symbolType": "M-1.6,0L1.6,0", "symbolSize": 81, "symbolStrokeWidth": 2, "rowPadding": 1, "labelOffset": 7, "labelExpr": "datum.label == 'SSB90' ? 'SSB<90' : datum.label"}},
"strokeDash": {"field": "Series", "type": "nominal", "scale": {"domain": ["SSB", "SSB90"], "range": [[8, 6], [1, 0]]},
"legend": {"orient": "top-right", "offset": 0, "title": null, "strokeColor": "black", "fillColor": "white", "padding": 6, "labelFontSize": 7.8, "labelColor": "#222222", "symbolType": "M-1.6,0L1.6,0", "symbolSize": 81, "symbolStrokeWidth": 2, "rowPadding": 1, "labelOffset": 7, "labelExpr": "datum.label == 'SSB90' ? 'SSB<90' : datum.label"}}
}
},
{
"width": 382, "height": 148,
"view": {"stroke": "black", "strokeWidth": 1},
"title": {"text": "SSB proportion above 90 cm", "fontSize": 14, "fontWeight": "bold", "offset": 21, "anchor": "middle", "frame": "group", "color": "black"},
"data": {"name": "right"},
"mark": {"type": "line", "strokeWidth": 1.8, "strokeDash": [8, 6], "color": "#222222", "interpolate": "monotone"},
"encoding": {
"x": {"field": "Year", "type": "quantitative", "scale": {"domain": [1957.6, 2022.4], "nice": false, "zero": false},
"axis": {"values": [1960, 1970, 1980, 1990, 2000, 2010, 2020], "format": "d", "domain": false, "tickColor": "black", "tickSize": 5, "labelFontSize": 11, "labelColor": "#222222", "labelPadding": 8, "title": null}},
"y": {"field": "Prop", "type": "quantitative", "scale": {"domain": [-0.04, 1.04], "nice": false, "zero": false},
"axis": {"values": [0, 0.2, 0.4, 0.6, 0.8, 1], "format": ".1f", "labelAngle": -90, "domain": false, "tickColor": "black", "tickSize": 5, "labelFontSize": 11, "labelColor": "#222222", "labelPadding": 9, "title": "1−(SSB<90 /SSB)", "titleFontSize": 11.5, "titleFontWeight": "normal", "titleColor": "#222222", "titleX": -50, "titleBaseline": "middle"}}
}
}
]
}
]
}
]
}
